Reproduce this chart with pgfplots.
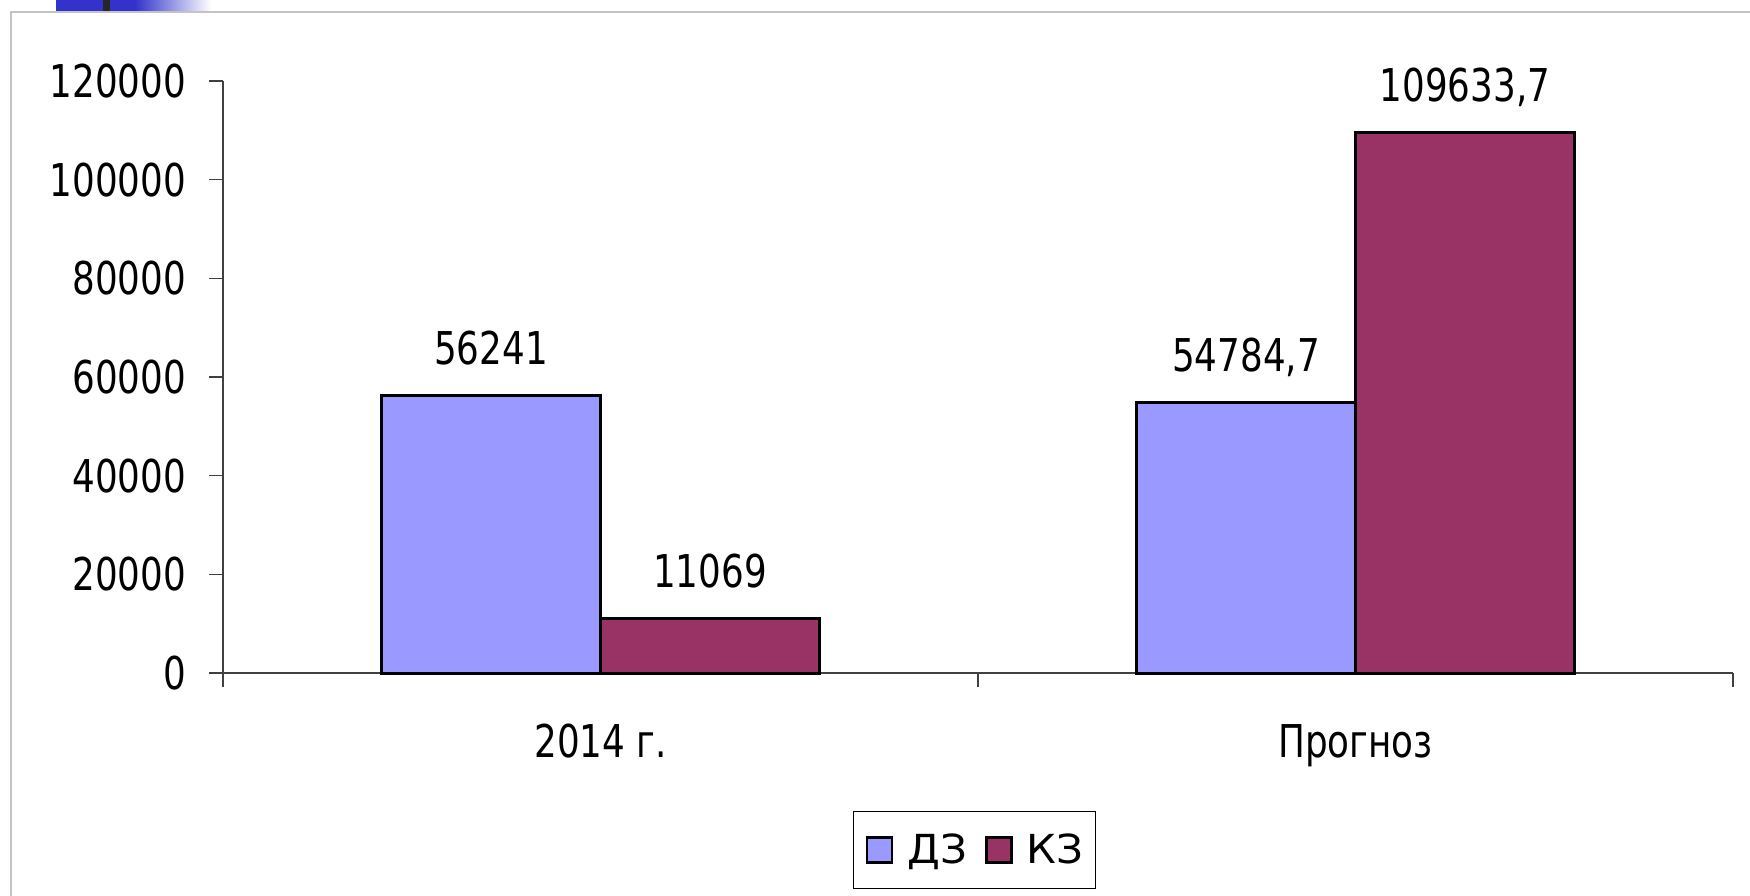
\documentclass[border=0pt]{standalone}
\usepackage{fontspec}
\setmainfont{DejaVu Sans}[FakeStretch=0.79]
\newfontfamily\legfont{DejaVu Sans}[FakeStretch=1.05]
\usepackage{pgfplots}
\pgfplotsset{compat=1.18}
\definecolor{dz}{HTML}{9999FF}
\definecolor{kz}{HTML}{993366}
\definecolor{axgray}{HTML}{404040}
\definecolor{framegray}{HTML}{C4C4C4}
\definecolor{slideblue}{HTML}{3333CC}
\newcommand\bigf{\fontsize{22.6bp}{27bp}\selectfont}
\pgfplotstableread{
x y label
0 56241 56241
1 54784.7 54784,7
}\dz
\pgfplotstableread{
x y label
0 11069 11069
1 109633.7 109633,7
}\kz
\begin{document}
\begin{tikzpicture}
\begin{axis}[
  at={(0,0)}, anchor=south west,
  scale only axis, width=755bp, height=296bp,
  ybar=0pt, bar width=109.5bp,
  xmin=-0.5, xmax=1.5, ymin=0, ymax=120000,
  xtick={0,1}, xticklabels={2014 г., Прогноз},
  minor xtick={-0.5,0.5,1.5},
  ytick={0,20000,...,120000},
  scaled y ticks=false,
  yticklabel style={/pgf/number format/fixed, /pgf/number format/precision=0,
    /pgf/number format/set thousands separator={},
    /pgf/number format/assume math mode=true, xshift=-8bp},
  axis x line=bottom, axis y line=left,
  axis line style={-, draw=axgray, line width=0.6bp},
  tick style={draw=axgray, line width=0.6bp},
  tick align=outside,
  major tick length=7bp, minor tick length=7bp,
  every major x tick/.append style={draw=none},
  tick label style={font=\bigf},
  xticklabel style={anchor=base, yshift=-35bp},
  clip=false,
  nodes near coords,
  point meta=explicit symbolic,
  every node near coord/.append style={font=\bigf, anchor=base, yshift=15.5bp},
  legend columns=2,
  legend style={at={(0.4977,-0.299)}, anchor=center, draw=black, line width=0.7bp,
    inner xsep=6bp, inner ysep=11bp,
    font=\legfont\fontsize{20bp}{24bp}\selectfont,
    nodes={inner sep=0pt},
    /tikz/every odd column/.append style={column sep=7bp},
    /tikz/every even column/.append style={column sep=9bp}},
]
\addplot[fill=dz, draw=black, line width=1.5bp,
  legend image code/.code={\draw[fill=dz,draw=black,line width=1.3bp] (0bp,-6.25bp) rectangle (12.5bp,6.25bp);}]
  table[x=x, y=y, meta=label] {\dz};
\addlegendentry{ДЗ}
\addplot[fill=kz, draw=black, line width=1.5bp,
  legend image code/.code={\draw[fill=kz,draw=black,line width=1.3bp] (0bp,-6.25bp) rectangle (12.5bp,6.25bp);}]
  table[x=x, y=y, meta=label] {\kz};
\addlegendentry{КЗ}
\end{axis}
\draw[framegray, line width=1.2bp] (-106bp,-111.5bp) -- (-106bp,330.5bp) -- (763.5bp,330.5bp);
\fill[slideblue] (-83.5bp,331.1bp) rectangle (-44bp,336.5bp);
\shade[left color=slideblue, right color=white] (-44bp,331.1bp) rectangle (-6bp,336.5bp);
\fill[black!85] (-60bp,331.1bp) rectangle (-56.5bp,336.5bp);
\pgfresetboundingbox
\path[use as bounding box] (-111.5bp,-111.5bp) rectangle (763.5bp,336.5bp);
\end{tikzpicture}
\end{document}
